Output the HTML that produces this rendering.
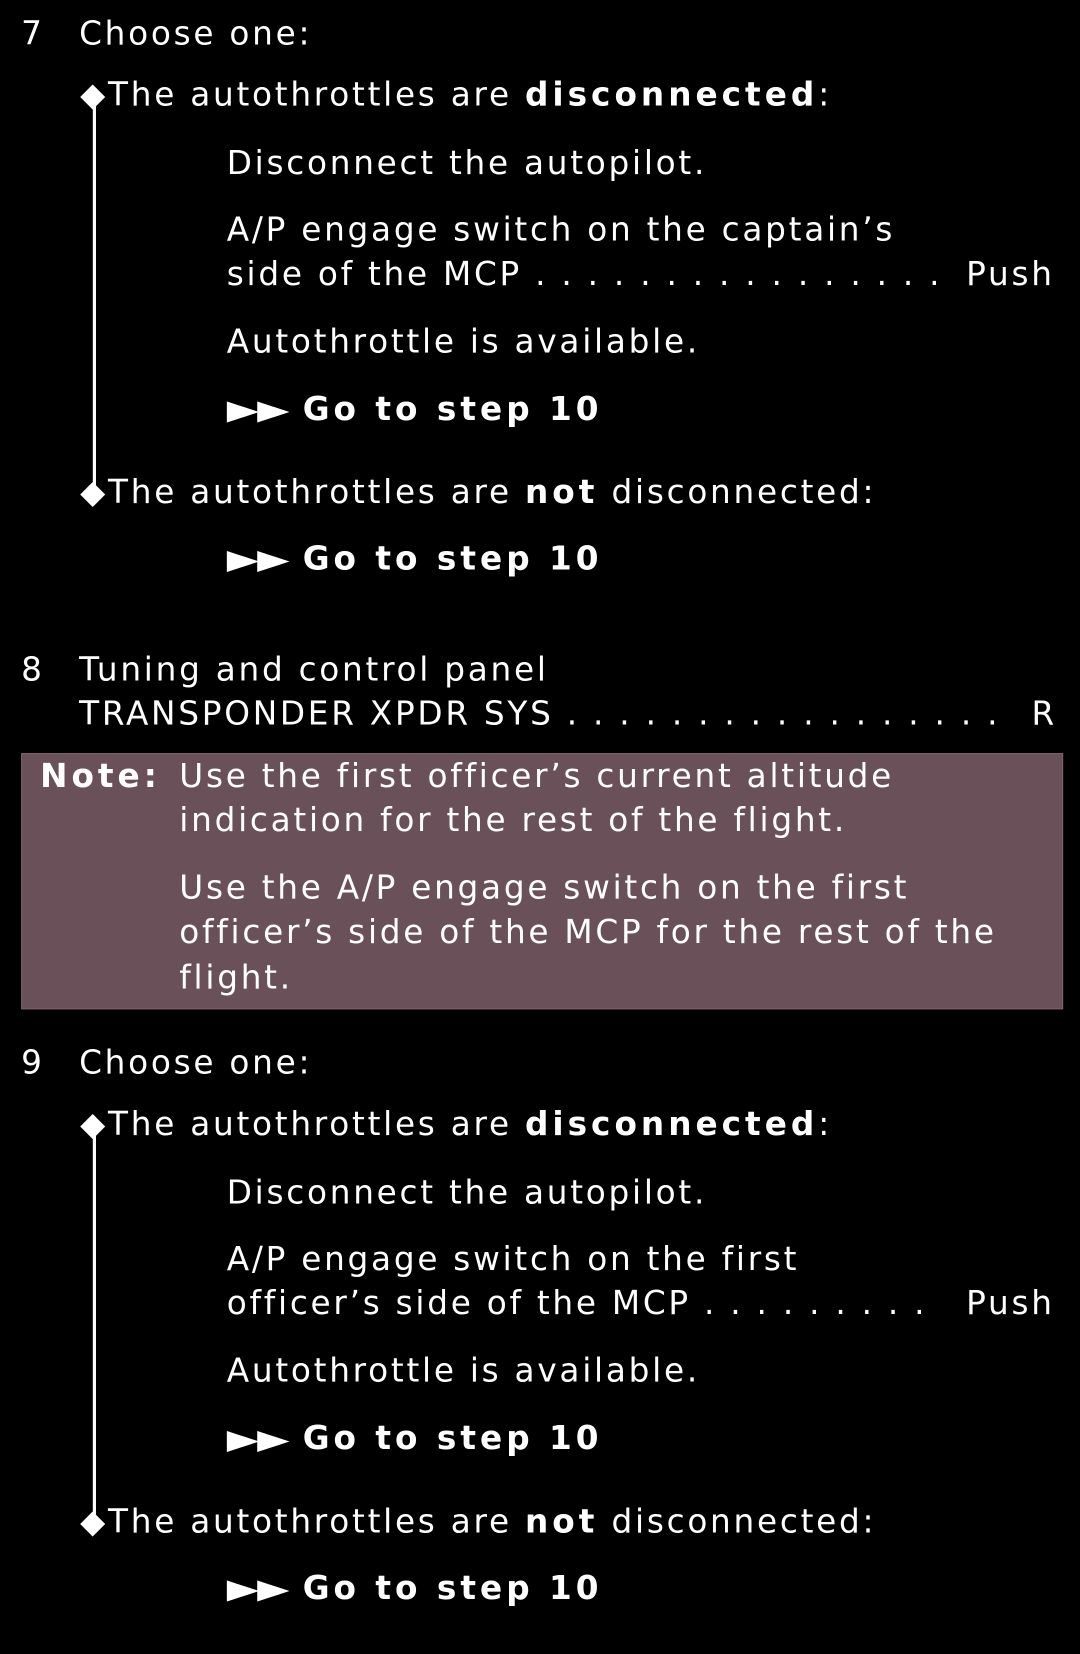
<!DOCTYPE html>
<html><head><meta charset="utf-8"><style>
html,body{margin:0;padding:0;background:#000;}
body{width:1080px;height:1653px;overflow:hidden;position:relative;}
#w{position:absolute;left:0;top:0;width:1024px;height:1568px;transform:scale(1.0547);transform-origin:0 0;}
.t{position:absolute;color:#fff;font-family:"DejaVu Sans","Liberation Sans",sans-serif;font-size:31px;line-height:40px;white-space:pre;letter-spacing:2.6px;}
b{font-weight:bold;letter-spacing:3.8px;}
.ar{font-size:40px;letter-spacing:-2px;display:inline-block;width:72px;vertical-align:top;line-height:40px;}
.vl{position:absolute;width:3px;background:#fff;left:88px;}
.note{position:absolute;left:20px;top:714px;width:988px;height:243px;background:#6a5159;border:1px solid #7a6068;box-sizing:border-box;}
</style></head><body><div id="w">

<div class="t" style="left:20px;top:12px">7</div>
<div class="t" style="left:75px;top:12px">Choose one:</div>
<div class="vl" style="top:95px;height:365px"></div>
<div class="t" style="left:76px;top:70px">◆The autothrottles are <b>disconnected</b>:</div>
<div class="t" style="left:215px;top:135px">Disconnect the autopilot.</div>
<div class="t" style="left:215px;top:198px">A/P engage switch on the captain’s</div>
<div class="t" style="left:215px;top:240px">side of the MCP . . . . . . . . . . . . . . . .</div>
<div class="t" style="left:916px;top:240px">Push</div>
<div class="t" style="left:215px;top:304px">Autothrottle is available.</div>
<div class="t" style="left:215px;top:368px"><span class="ar">►►</span><b>Go to step 10</b></div>
<div class="t" style="left:76px;top:447px">◆The autothrottles are <b>not</b> disconnected:</div>
<div class="t" style="left:215px;top:510px"><span class="ar">►►</span><b>Go to step 10</b></div>

<div class="t" style="left:20px;top:615px">8</div>
<div class="t" style="left:75px;top:615px">Tuning and control panel</div>
<div class="t" style="left:75px;top:657px">TRANSPONDER XPDR SYS . . . . . . . . . . . . . . . . .</div>
<div class="t" style="left:978px;top:657px">R</div>
<div class="note"></div>
<div class="t" style="left:38px;top:716px"><b>Note:</b></div>
<div class="t" style="left:170px;top:716px">Use the first officer’s current altitude</div>
<div class="t" style="left:170px;top:758px">indication for the rest of the flight.</div>
<div class="t" style="left:170px;top:822px">Use the A/P engage switch on the first</div>
<div class="t" style="left:170px;top:864px">officer’s side of the MCP for the rest of the</div>
<div class="t" style="left:170px;top:907px">flight.</div>

<div class="t" style="left:20px;top:988px">9</div>
<div class="t" style="left:75px;top:988px">Choose one:</div>
<div class="vl" style="top:1071px;height:365px"></div>
<div class="t" style="left:76px;top:1046px">◆The autothrottles are <b>disconnected</b>:</div>
<div class="t" style="left:215px;top:1111px">Disconnect the autopilot.</div>
<div class="t" style="left:215px;top:1174px">A/P engage switch on the first</div>
<div class="t" style="left:215px;top:1216px">officer’s side of the MCP . . . . . . . . .</div>
<div class="t" style="left:916px;top:1216px">Push</div>
<div class="t" style="left:215px;top:1280px">Autothrottle is available.</div>
<div class="t" style="left:215px;top:1344px"><span class="ar">►►</span><b>Go to step 10</b></div>
<div class="t" style="left:76px;top:1423px">◆The autothrottles are <b>not</b> disconnected:</div>
<div class="t" style="left:215px;top:1486px"><span class="ar">►►</span><b>Go to step 10</b></div>

</div></body></html>
